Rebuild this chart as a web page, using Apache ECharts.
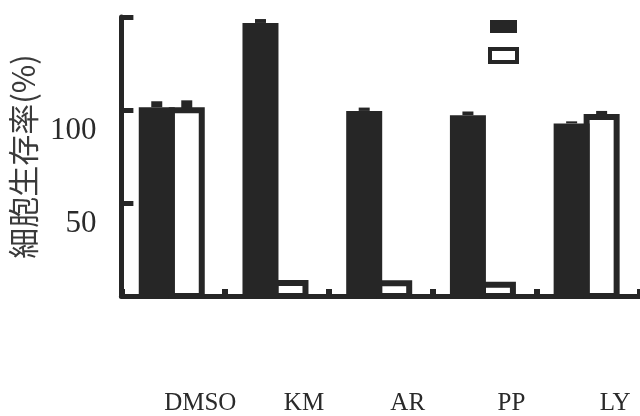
<!DOCTYPE html>
<html>
<head>
<meta charset="utf-8">
<script src="https://cdn.jsdelivr.net/npm/echarts@6/dist/echarts.min.js"></script>
<style>
  html, body { margin: 0; padding: 0; background: #ffffff; }
  #chart { width: 640px; height: 416px; }
</style>
</head>
<body>
<div id="chart"></div>
<script>
// Treatments along the x axis
var categories = ['DMSO', 'KM', 'AR', 'PP', 'LY'];

// Filled bars: mean viability (%) and SD
var meanA = [101.5, 146.8, 99.5, 97.2, 92.8];
var sdA   = [3.2, 2.1, 1.8, 2.0, 1.1];

// Open bars: mean viability (%) and SD
var meanB = [99.9, 7.0, 6.8, 6.1, 96.2];
var sdB   = [5.3, 1.0, 1.0, 1.0, 3.3];

// Y axis: ticks every 50, only some of them labelled
var yMin = 0, yMax = 150, yStep = 50;
var yLabelled = [50, 100];

var INK = '#262626';

// Bar geometry inside one category band (pixels relative to the band centre)
var A_LEFT = -34.5, A_WIDTH = 36;
var B_LEFT = -1.5, B_WIDTH = 30, B_STROKE = 6;
var CAP_W = 11;

function rows(means, sds) {
  return means.map(function (m, i) { return [i, m, sds[i]]; });
}

function renderFilled(params, api) {
  var idx = api.value(0), v = api.value(1), sd = api.value(2);
  var top = api.coord([idx, v]);
  var base = api.coord([idx, 0]);
  var capTop = api.coord([idx, v + sd]);
  var cx = top[0] + A_LEFT + A_WIDTH / 2;
  return {
    type: 'group',
    children: [
      { type: 'rect', shape: { x: top[0] + A_LEFT, y: top[1], width: A_WIDTH, height: base[1] - top[1] },
        style: { fill: INK } },
      { type: 'rect', shape: { x: cx - CAP_W / 2, y: capTop[1], width: CAP_W, height: top[1] - capTop[1] },
        style: { fill: INK } }
    ]
  };
}

function renderOpen(params, api) {
  var idx = api.value(0), v = api.value(1), sd = api.value(2);
  var top = api.coord([idx, v]);
  var base = api.coord([idx, 0]);
  var capTop = api.coord([idx, v + sd]);
  var cx = top[0] + B_LEFT + B_WIDTH / 2;
  return {
    type: 'group',
    children: [
      { type: 'rect', shape: { x: top[0] + B_LEFT, y: top[1], width: B_WIDTH, height: base[1] - top[1] },
        style: { fill: '#ffffff', stroke: INK, lineWidth: B_STROKE } },
      { type: 'rect', shape: { x: cx - CAP_W / 2, y: capTop[1], width: CAP_W, height: top[1] - capTop[1] },
        style: { fill: INK } }
    ]
  };
}

var chart = echarts.init(document.getElementById('chart'), null, { renderer: 'canvas' });

chart.setOption({
  backgroundColor: '#ffffff',
  animation: false,
  legend: {
    orient: 'vertical',
    left: 483,
    top: 15,
    itemWidth: 27,
    itemHeight: 13,
    itemGap: 14,
    selectedMode: false,
    formatter: function () { return ''; },
    textStyle: { fontSize: 10 },
    data: [
      { name: 'A', icon: 'rect', itemStyle: { color: INK } },
      { name: 'B', icon: 'rect', itemStyle: { color: '#ffffff', borderColor: INK, borderWidth: 4 } }
    ]
  },
  grid: { left: 118, top: 17, width: 523.5, bottom: 117.5, containLabel: false },
  xAxis: {
    type: 'category',
    data: categories,
    boundaryGap: true,
    axisLine: { show: true, lineStyle: { color: INK, width: 5 } },
    axisTick: { show: true, inside: true, length: 7, interval: 0, alignWithLabel: false,
                lineStyle: { color: INK, width: 6 } },
    axisLabel: {
      interval: 0,
      margin: 95,
      verticalAlign: 'top',
      align: 'center',
      padding: [0, 0, 0, 54],
      fontFamily: 'Liberation Serif',
      fontSize: 25,
      lineHeight: 25,
      color: '#2a2a2a'
    },
    splitLine: { show: false }
  },
  yAxis: {
    type: 'value',
    min: yMin,
    max: yMax,
    interval: yStep,
    name: '細胞生存率(%)',
    nameLocation: 'middle',
    nameGap: 76,
    nameTextStyle: { fontFamily: 'Noto Sans CJK JP', fontSize: 31, color: '#3a3a3a' },
    axisLine: { show: true, lineStyle: { color: INK, width: 5 } },
    axisTick: { show: true, inside: true, length: 12, lineStyle: { color: INK, width: 5 } },
    axisLabel: {
      margin: 25,
      verticalAlign: 'top',
      padding: [5, 0, 0, 0],
      fontFamily: 'Liberation Serif',
      fontSize: 31,
      lineHeight: 31,
      color: '#2a2a2a',
      formatter: function (v) { return yLabelled.indexOf(v) >= 0 ? String(v) : ''; }
    },
    splitLine: { show: false }
  },
  series: [
    { name: 'A', type: 'custom', z: 3, itemStyle: { color: INK },
      renderItem: renderFilled, encode: { x: 0, y: 1 }, data: rows(meanA, sdA) },
    { name: 'B', type: 'custom', z: 2, itemStyle: { color: '#ffffff', borderColor: INK },
      renderItem: renderOpen, encode: { x: 0, y: 1 }, data: rows(meanB, sdB) }
  ]
});
</script>
</body>
</html>
